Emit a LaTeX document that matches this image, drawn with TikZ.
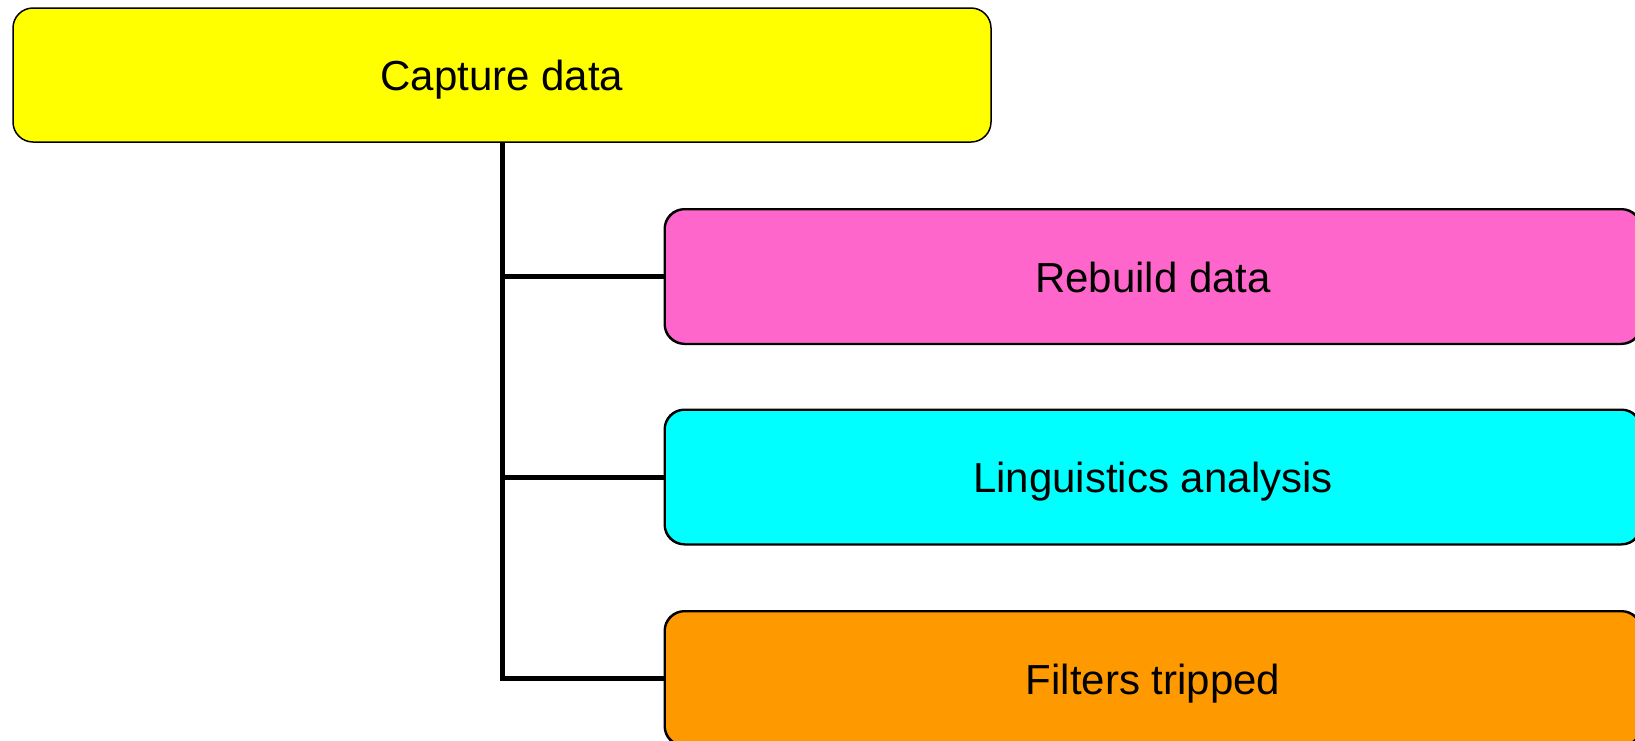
\documentclass[tikz,border=0pt]{standalone}
\usepackage{fontspec}
\setmainfont{Liberation Sans}
\definecolor{boxyellow}{HTML}{FFFF00}
\definecolor{boxpink}{HTML}{FF66CC}
\definecolor{boxcyan}{HTML}{00FFFF}
\definecolor{boxorange}{HTML}{FF9900}
\tikzset{
  stagebox/.style={draw=black, line width=1.5pt, rounded corners=20pt,
    inner sep=0pt, minimum height=134pt, text height=31pt, text depth=0pt,
    font=\fontsize{42}{50}\selectfont},
  treeline/.style={draw=black, line width=5pt}
}
\begin{document}
\begin{tikzpicture}[x=1pt,y=-1pt]
  \useasboundingbox (0,0) rectangle (1635,740);
  \clip (0,0) rectangle (1635,740);
  \fill[white] (0,0) rectangle (1635,740);

  % root and its three children
  \node[stagebox, fill=boxyellow, minimum width=978pt] (cap) at (502,75) {Capture data};
  \node[stagebox, fill=boxpink, minimum width=976pt] (reb) at (1153,276.5) {Rebuild data};
  \node[stagebox, fill=boxcyan, minimum width=976pt] (ling) at (1153,477) {Linguistics analysis};
  \node[stagebox, fill=boxorange, minimum width=976pt] (filt) at (1153,678.5) {Filters tripped};

  % tree connectors
  \draw[treeline] (cap.south) |- (filt.west);
  \draw[treeline] (cap.south |- reb.west) -- (reb.west);
  \draw[treeline] (cap.south |- ling.west) -- (ling.west);

  % redraw child outlines over the connector ends
  \draw[line width=1.5pt, rounded corners=20pt] (reb.north west) rectangle (reb.south east);
  \draw[line width=1.5pt, rounded corners=20pt] (ling.north west) rectangle (ling.south east);
  \draw[line width=1.5pt, rounded corners=20pt] (filt.north west) rectangle (filt.south east);
\end{tikzpicture}
\end{document}
